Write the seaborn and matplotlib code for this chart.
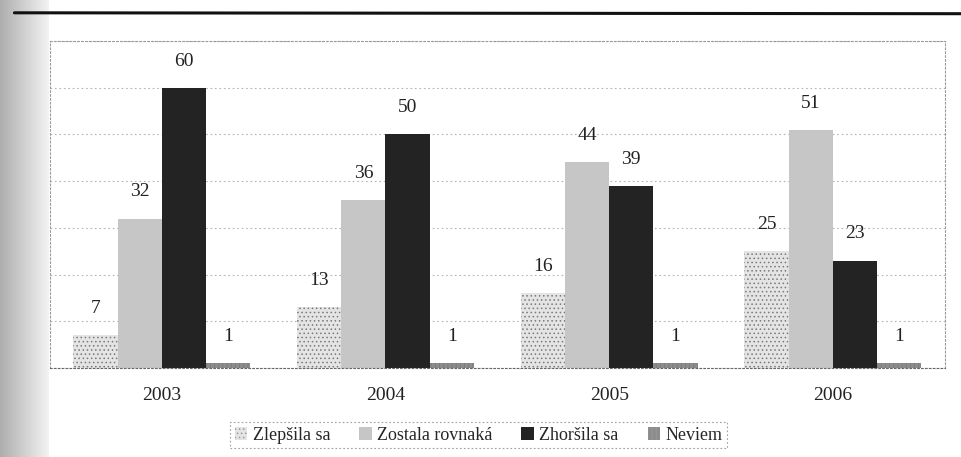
import numpy as np
import pandas as pd
import matplotlib
matplotlib.use('Agg')
import matplotlib.pyplot as plt
from matplotlib.patches import Patch
import seaborn as sns

# data
roky = ['2003', '2004', '2005', '2006']
kategorie = ['Zlepšila sa', 'Zostala rovnaká', 'Zhoršila sa', 'Neviem']
zlepsila = [7, 13, 16, 25]
zostala = [32, 36, 44, 51]
zhorsila = [60, 50, 39, 23]
neviem = [1, 1, 1, 1]

farby = ['#e4e4e4', '#c6c6c6', '#232323', '#8c8c8c']
srafy = ['....', '', '', '||||']

rows = []
for kat, vals in zip(kategorie, [zlepsila, zostala, zhorsila, neviem]):
    for rok, v in zip(roky, vals):
        rows.append({'rok': rok, 'odpoved': kat, 'hodnota': v})
df = pd.DataFrame(rows)

sns.set_style('white')
plt.rcParams['font.family'] = ['Liberation Serif', 'DejaVu Serif']
plt.rcParams['hatch.color'] = '#9a9a9a'
plt.rcParams['hatch.linewidth'] = 0.6

fig = plt.figure(figsize=(9.61, 4.57), dpi=100)

# page shadow strip on the left edge and top rule of the scanned page
bg = fig.add_axes([0, 0, 0.05, 1])
bg.imshow(np.linspace(0.68, 0.95, 50).reshape(1, -1), cmap='gray', vmin=0, vmax=1,
          aspect='auto', extent=[0, 1, 0, 1])
bg.axis('off')
fig.add_artist(plt.Line2D([0.015, 1.0], [0.972, 0.970], color='#111111', lw=2.2,
                          transform=fig.transFigure))

ax = fig.add_axes([0.052, 0.195, 0.931, 0.715])
sns.barplot(data=df, x='rok', y='hodnota', hue='odpoved', order=roky,
            hue_order=kategorie, palette=farby, width=0.79, ax=ax,
            edgecolor='none', linewidth=0, saturation=1, legend=False)

for cont, h in zip(ax.containers, srafy):
    for bar in cont:
        bar.set_hatch(h)
        if h:
            bar.set_edgecolor('#7a7a7a')
            bar.set_linewidth(0)
    ax.bar_label(cont, padding=13, fontsize=14, color='#222222')

ax.set_ylim(0, 70)
ax.set_xlim(-0.5, 3.5)
ax.set_yticks(range(0, 71, 10))
ax.set_yticklabels([])
ax.tick_params(axis='y', length=0)
ax.tick_params(axis='x', length=0, labelsize=14, pad=14, colors='#222222')
ax.set_xlabel('')
ax.set_ylabel('')
ax.grid(axis='y', linestyle=(0, (1.5, 2.5)), color='#b5b5b5', linewidth=0.8)
ax.set_axisbelow(True)
for s in ax.spines.values():
    s.set_visible(True)
    s.set_linestyle((0, (1.5, 2)))
    s.set_color('#9a9a9a')
    s.set_linewidth(0.8)
ax.spines['bottom'].set_color('#666666')

handles = [Patch(facecolor=f, hatch=h, edgecolor='#9a9a9a' if h else f, linewidth=0)
           for f, h in zip(farby, srafy)]
leg = fig.legend(handles, kategorie, loc='center', bbox_to_anchor=(0.498, 0.048),
                 ncol=4, fontsize=13, frameon=True, fancybox=False,
                 handlelength=0.7, handleheight=0.7, handletextpad=0.3,
                 columnspacing=1.6, borderpad=0.25)
leg.get_frame().set_edgecolor('#888888')
leg.get_frame().set_linestyle((0, (1.5, 2)))
leg.get_frame().set_linewidth(0.8)

fig.savefig('out.png', dpi=100)
